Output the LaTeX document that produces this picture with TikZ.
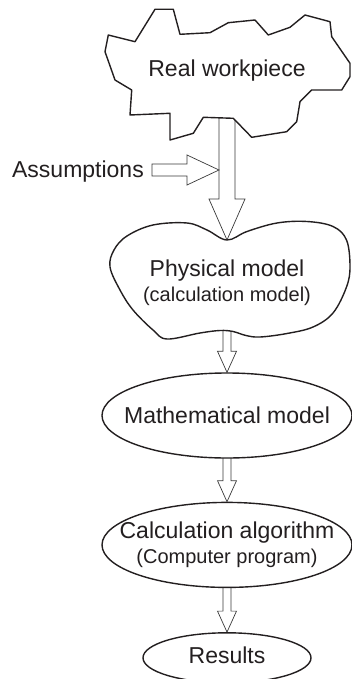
\documentclass[tikz,border=0pt]{standalone}
\usepackage{fontspec}
\setmainfont{Liberation Sans}
\usepackage{tikz}
\usetikzlibrary{calc,positioning,shapes.geometric,backgrounds}
\definecolor{ink}{HTML}{231F20}
\definecolor{wire}{HTML}{3A3A3A}
\newcommand{\bigtext}{\fontsize{23}{25}\selectfont}
\newcommand{\smalltext}{\fontsize{20}{22}\selectfont}
% hollow block arrow: from, to, half shaft, half head, head length
\newcommand{\fatarrow}[5]{%
  \path ($(#2)!#5!(#1)$) coordinate (fa-base);
  \draw[hollow] ($(#1)!#3!90:(#2)$) -- ($(fa-base)!#3!90:(#2)$)
    -- ($(fa-base)!#4!90:(#2)$) -- (#2) -- ($(fa-base)!#4!-90:(#2)$)
    -- ($(fa-base)!#3!-90:(#2)$) -- ($(#1)!#3!-90:(#2)$) -- cycle;
}

\begin{document}
\begin{tikzpicture}[
  x=1pt,y=-1pt,
  outline/.style={draw=ink,line width=1.4pt,fill=white,line join=round},
  oval/.style={ellipse,outline,inner sep=0pt},
  txt/.style={text=ink,font=\bigtext,align=center,inner sep=0pt},
  hollow/.style={draw=wire,line width=0.7pt,fill=white,line join=miter}
]
\useasboundingbox (0,0) rectangle (351,679);

% real workpiece
\draw[outline] (155,9.3) -- (173.3,9.3) -- (180,34.3) -- (210,32.7) -- (228.3,22.7)
  -- (255,20) -- (268.3,35) -- (290,27.3) -- (305,15) -- (330,21.7) -- (331.7,36.7)
  -- (350,63.3) -- (350,76.7) -- (341.7,90) -- (311.7,90) -- (300,101.7)
  -- (296.7,121.7) -- (286.7,131.7) -- (251.7,137.3) -- (233.3,118.3) -- (203.3,117.3)
  -- (193.3,133.3) -- (170,140) -- (170,113.3) -- (130,115) -- (131.7,90) -- (115,80)
  -- (105,51.7) -- (108.3,35) -- (135,41.7) -- cycle;
\node[txt] (real) at (227,71) {Real workpiece};

\node[txt,anchor=east] (assume) at (144,171.7) {Assumptions};
\coordinate (atail) at (152,170);
\coordinate (join) at (219,170);

% physical model
\coordinate (dip) at (227,240);
\draw[outline] plot[smooth cycle,tension=0.6] coordinates {
  (227,240) (247,231.5) (277,223) (307,221.5) (333,226.5) (346.5,240) (350,266.5)
  (346.5,287) (333,313) (313,327) (287,333.5) (260,337) (246,335.5) (233,331.5)
  (220,330.5) (200,333) (167,339) (153,330) (133,310) (120,290) (110,267) (114,250)
  (127,236) (153,225) (187,223) (207,230)};
\node[txt] (phys) at (227,283) {Physical model\\{\smalltext (calculation model)}};

\node[oval,minimum width=250pt,minimum height=85pt] (math) at (227,415.5) {};
\node[txt] (mathtext) at (math) {Mathematical model};
\node[oval,minimum width=250pt,minimum height=85pt,below=43pt of math] (calc) {};
\node[txt] (calctext) at (calc) {Calculation algorithm\\{\smalltext (Computer program)}};
\node[oval,minimum width=168pt,minimum height=50pt,below=44pt of calc] (res) {};
\node[txt] (restext) at ([yshift=3pt]res.center) {Results};

\begin{scope}[on background layer]
\fatarrow{real}{dip}{8pt}{18pt}{41pt}
\fatarrow{atail}{join}{6pt}{15pt}{32pt}
\fatarrow{phys}{math.north}{4pt}{9.5pt}{21pt}
\fatarrow{math}{calc.north}{4pt}{9.5pt}{21pt}
\fatarrow{calc}{res.north}{4pt}{9.5pt}{21pt}
\end{scope}
\end{tikzpicture}
\end{document}
